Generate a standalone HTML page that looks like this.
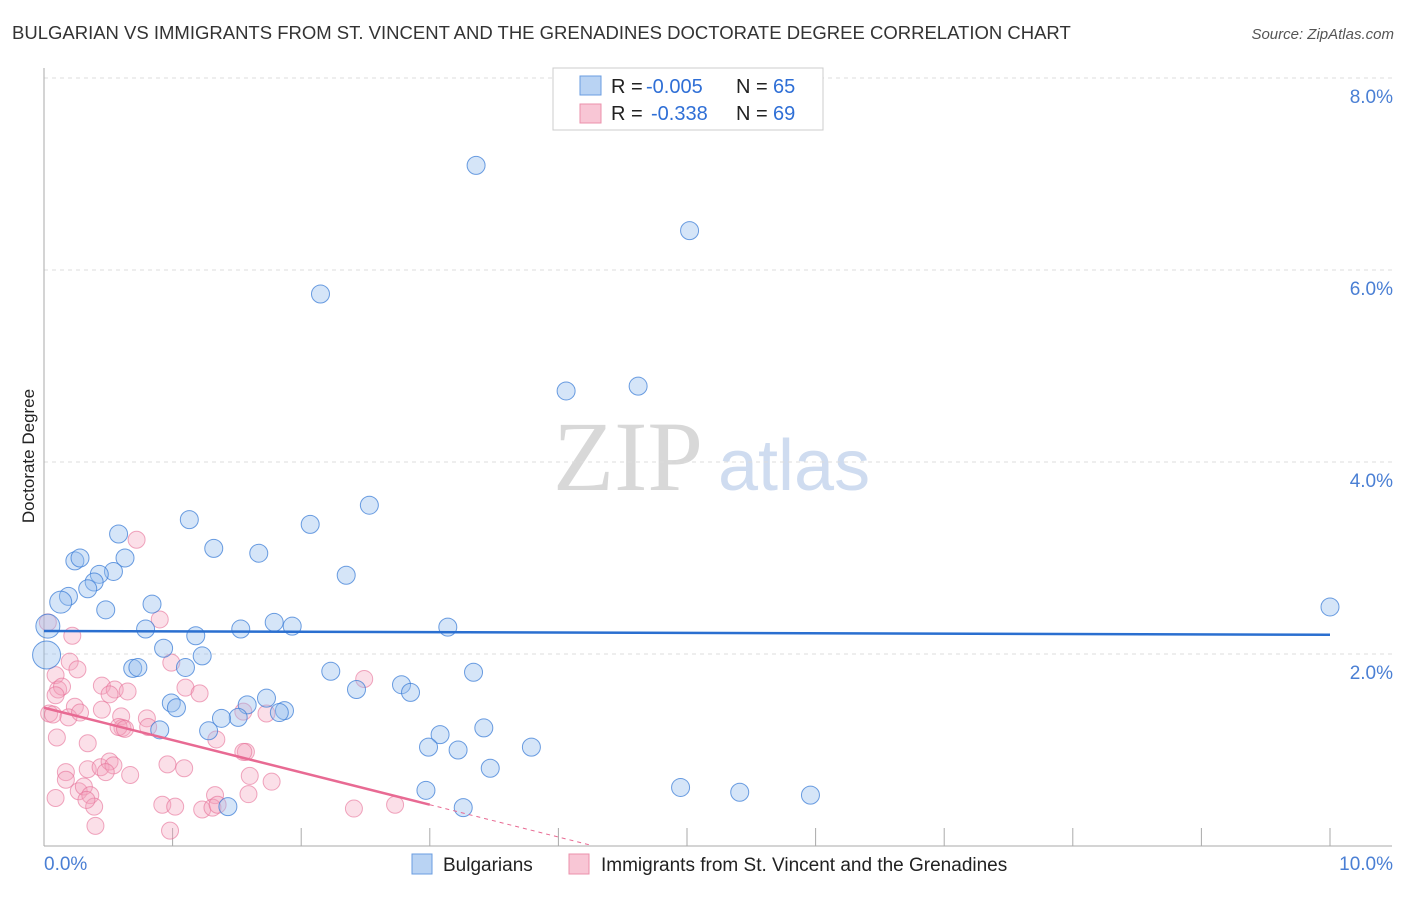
<!DOCTYPE html>
<html><head><meta charset="utf-8"><style>
body{margin:0;background:#fff;font-family:"Liberation Sans",sans-serif}
</style></head><body>
<svg id="c" width="1406" height="892" xmlns="http://www.w3.org/2000/svg" style="font-family:'Liberation Sans',sans-serif">
<text x="12" y="39" font-size="18.5" fill="#333">BULGARIAN VS IMMIGRANTS FROM ST. VINCENT AND THE GRENADINES DOCTORATE DEGREE CORRELATION CHART</text>
<text x="1394" y="39" font-size="15" fill="#555" text-anchor="end" font-style="italic">Source: ZipAtlas.com</text>
<text x="34" y="456" font-size="17" fill="#222" text-anchor="middle" transform="rotate(-90 34 456)">Doctorate Degree</text>
<text x="553" y="490" font-size="100" fill="#d8d8d8" font-family="Liberation Serif">ZIP</text>
<text x="718" y="490" font-size="72" fill="#cfdcf0">atlas</text>
<g id="grid"></g><g id="axes"></g><g id="pink"></g><g id="blue"></g><g id="trends"></g>
<g>
<rect x="553" y="68" width="270" height="62" fill="#fff" stroke="#ccc"/>
<rect x="580" y="76" width="21" height="19" fill="#b9d3f3" stroke="#6a9de0"/>
<rect x="580" y="104" width="21" height="19" fill="#f8c6d5" stroke="#eb90ab"/>
<text y="93" font-size="20" fill="#222"><tspan x="611">R =</tspan><tspan x="646" fill="#2f6fd6">-0.005</tspan><tspan x="736">N =</tspan><tspan x="773" fill="#2f6fd6">65</tspan></text>
<text y="120" font-size="20" fill="#222"><tspan x="611">R =</tspan><tspan x="651" fill="#2f6fd6">-0.338</tspan><tspan x="736">N =</tspan><tspan x="773" fill="#2f6fd6">69</tspan></text>
</g>
<g>
<rect x="412" y="854" width="20" height="20" fill="#b9d3f3" stroke="#6a9de0"/>
<text x="443" y="871" font-size="19" fill="#222">Bulgarians</text>
<rect x="569" y="854" width="20" height="20" fill="#f8c6d5" stroke="#eb90ab"/>
<text x="601" y="871" font-size="19" fill="#222">Immigrants from St. Vincent and the Grenadines</text>
</g>
</svg>
<script>
const yTicks=[2,4,6,8];
const yTickLabels=["2.0%","4.0%","6.0%","8.0%"];
const xTickLabels=["0.0%","10.0%"];
const blueX=[3.36,5.02,2.15,4.06,4.62,2.53,1.13,2.07,0.58,1.32,1.67,0.24,0.28,0.63,0.54,0.43,2.35,0.39,0.34,0.19,0.13,0.48,0.84,0.03,0.79,1.53,1.79,1.93,3.14,1.18,0.93,1.23,0.02,0.69,0.73,1.1,2.23,3.34,2.43,2.78,2.85,1.73,1.58,0.99,1.03,1.87,1.83,1.51,1.38,1.28,0.9,3.42,3.08,2.99,3.22,3.79,3.47,2.97,4.95,5.41,5.96,3.26,1.43,10.0];
const blueY=[7.09,6.41,5.75,4.74,4.79,3.55,3.4,3.35,3.25,3.1,3.05,2.97,3.0,3.0,2.86,2.83,2.82,2.75,2.68,2.6,2.54,2.46,2.52,2.29,2.26,2.26,2.33,2.29,2.28,2.19,2.06,1.98,1.99,1.85,1.86,1.86,1.82,1.81,1.63,1.68,1.6,1.54,1.47,1.49,1.44,1.41,1.39,1.34,1.33,1.2,1.21,1.23,1.16,1.03,1.0,1.03,0.81,0.58,0.61,0.56,0.53,0.4,0.41,2.49];
const blueR=[9,9,9,9,9,9,9,9,9,9,9,9,9,9,9,9,9,9,9,9,11,9,9,12,9,9,9,9,9,9,9,9,14,9,9,9,9,9,9,9,9,9,9,9,9,9,9,9,9,9,9,9,9,9,9,9,9,9,9,9,9,9,9,9];
const pinkX=[0.72,0.03,0.9,0.22,0.2,0.26,0.99,2.49,0.09,0.11,0.14,0.45,0.55,0.65,1.1,1.21,0.51,0.09,0.24,0.45,0.04,0.07,0.19,0.28,0.8,1.55,0.6,1.73,0.61,0.58,0.63,0.81,1.34,0.34,1.57,1.55,0.1,0.17,0.34,0.44,0.51,0.54,0.48,0.96,1.09,1.6,0.67,0.17,0.27,0.31,0.36,0.39,0.33,0.92,1.02,1.77,1.33,1.59,1.23,1.31,1.35,2.41,2.73,0.4,0.98,0.09];
const pinkY=[3.19,2.33,2.36,2.19,1.92,1.84,1.91,1.74,1.78,1.63,1.66,1.67,1.63,1.61,1.65,1.59,1.58,1.57,1.45,1.42,1.38,1.37,1.34,1.39,1.33,1.4,1.35,1.38,1.23,1.24,1.22,1.24,1.11,1.07,0.98,0.98,1.13,0.77,0.8,0.82,0.88,0.84,0.77,0.85,0.81,0.73,0.74,0.69,0.57,0.62,0.53,0.41,0.48,0.43,0.41,0.67,0.53,0.54,0.38,0.4,0.43,0.39,0.43,0.21,0.16,0.5];
const blueTrend=[2.24,2.20];
const pinkTrend=[1.44,0.43,3.0];
const X0=44,X1=1330,Y0=846,PY=96;
const sx=v=>X0+(X1-X0)*v/10, sy=v=>Y0-v*PY;
const NS="http://www.w3.org/2000/svg";
function mk(t,a,p){const e=document.createElementNS(NS,t);for(const k in a)e.setAttribute(k,a[k]);p.appendChild(e);return e;}
const g=document.getElementById('grid'),ax=document.getElementById('axes');
yTicks.forEach((v,i)=>{
 const l=mk('line',{x1:X0,x2:1392,y1:sy(v),y2:sy(v),stroke:'#ddd','stroke-dasharray':'4,4'},g);
 
 
 const t=mk('text',{x:1393,y:sy(v)+25,'font-size':19,fill:'#4a7fd4','text-anchor':'end'},g);t.textContent=yTickLabels[i];
 
 
});
mk('line',{x1:X0,x2:X0,y1:68,y2:Y0,stroke:'#aaa'},ax);
mk('line',{x1:X0,x2:1392,y1:Y0,y2:Y0,stroke:'#aaa'},ax);
for(let i=1;i<=10;i++){const l=mk('line',{x1:sx(i),x2:sx(i),y1:828,y2:Y0,stroke:'#aaa'},ax);
 
 }
const t0=mk('text',{x:44,y:870,'font-size':19,fill:'#4a7fd4'},ax);t0.textContent=xTickLabels[0];


const t1=mk('text',{x:1393,y:870,'font-size':19,fill:'#4a7fd4','text-anchor':'end'},ax);t1.textContent=xTickLabels[1];


const pg=document.getElementById('pink'),bg=document.getElementById('blue');
pinkX.forEach((x,i)=>{const c=mk('circle',{cx:sx(x),cy:sy(pinkY[i]),r:8.5,fill:'rgba(244,164,190,0.35)',stroke:'rgba(230,110,150,0.6)'},pg);
 
 });
blueX.forEach((x,i)=>{const c=mk('circle',{cx:sx(x),cy:sy(blueY[i]),r:blueR[i],fill:'rgba(150,190,238,0.4)',stroke:'rgba(60,125,215,0.75)'},bg);
 
 });
const tg=document.getElementById('trends');
const bt=mk('line',{x1:sx(0),x2:sx(10),y1:sy(blueTrend[0]),y2:sy(blueTrend[1]),stroke:'#2a6fd0','stroke-width':2.5},tg);


const slope=(pinkTrend[1]-pinkTrend[0])/pinkTrend[2];
const pt=mk('line',{x1:sx(0),x2:sx(pinkTrend[2]),y1:sy(pinkTrend[0]),y2:sy(pinkTrend[1]),stroke:'#e86a93','stroke-width':2.5},tg);


const xe=4.25;
const pd=mk('line',{x1:sx(pinkTrend[2]),x2:sx(xe),y1:sy(pinkTrend[1]),y2:sy(pinkTrend[0]+slope*xe),stroke:'#e86a93','stroke-width':1,'stroke-dasharray':'4,4'},tg);


</script>
</body></html>
